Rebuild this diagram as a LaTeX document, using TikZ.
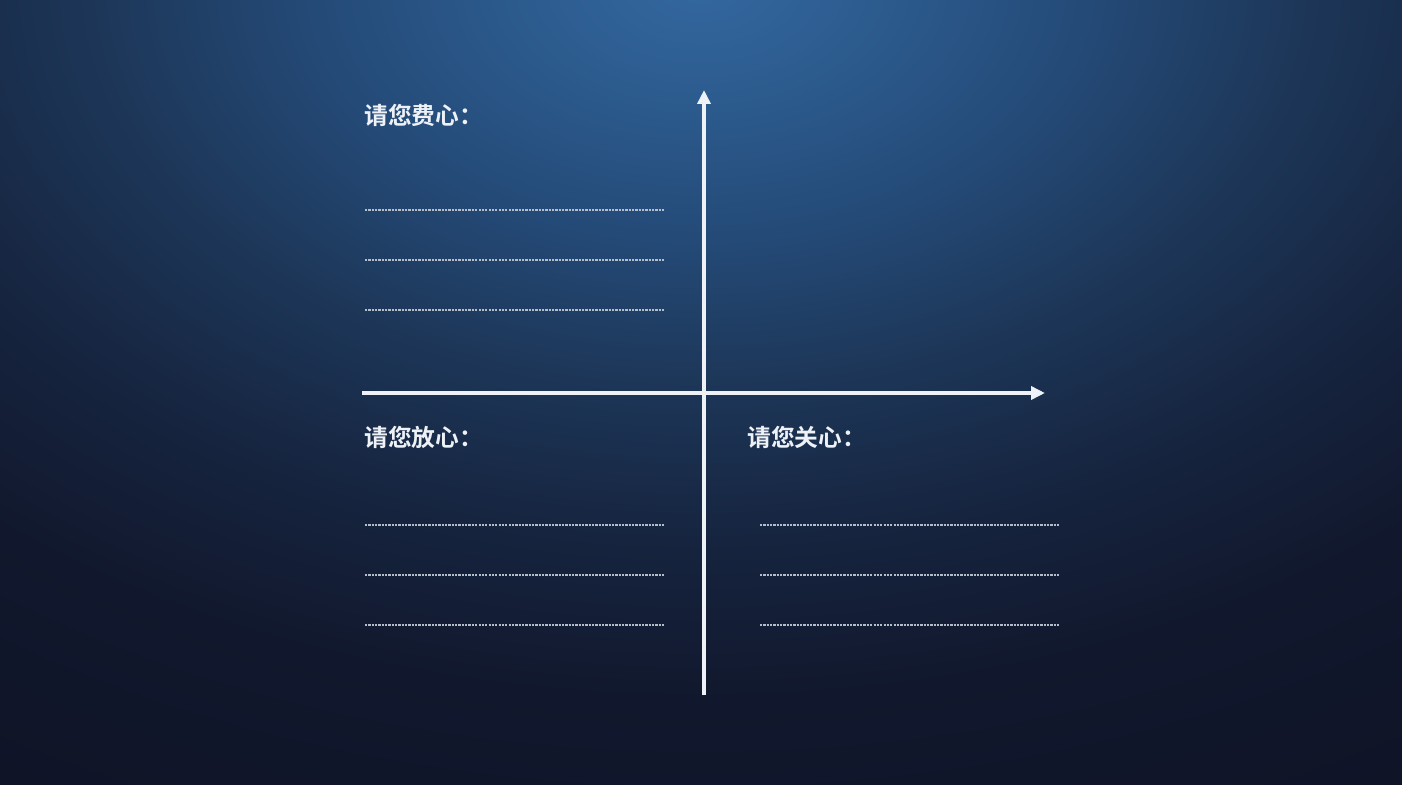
\documentclass[tikz,border=0pt]{standalone}
\usepackage{fontspec}
\usepackage{tikz}
\usetikzlibrary{arrows.meta,positioning,calc}
\newfontfamily\cjk{Noto Sans CJK SC Bold}
\definecolor{glowtop}{HTML}{3468A0}
\definecolor{glowhigh}{HTML}{2C5B8E}
\definecolor{glowmid}{HTML}{244A77}
\definecolor{glowlow}{HTML}{1D3759}
\definecolor{glowdark}{HTML}{16243F}
\definecolor{glowdeep}{HTML}{11182D}
\definecolor{glowend}{HTML}{0F1326}
\definecolor{inkwhite}{HTML}{EEF2F7}
\definecolor{dashgrey}{HTML}{B4BECA}
\pgfdeclareradialshading{bgglow}{\pgfpoint{0bp}{0bp}}{color(0bp)=(glowtop); color(3bp)=(glowhigh); color(6.5bp)=(glowmid); color(10bp)=(glowlow); color(14bp)=(glowdark); color(18bp)=(glowdeep); color(24bp)=(glowend); color(100bp)=(glowend)}

\begin{document}
\begin{tikzpicture}[
    x=0.02cm, y=-0.02cm,
    axis/.style={draw=inkwhite, line width=2pt, -{Triangle[length=0.28cm, width=0.26cm]}},
    blank/.style={draw=dashgrey, line width=0.75pt, dash pattern=on 1.3pt off 0.6pt},
    heading/.style={anchor=west, inner sep=0pt, text=inkwhite, font=\cjk\fontsize{13.5}{16}\selectfont}
]
\useasboundingbox (0,0) rectangle (1402,784);
\fill[glowend] (0,0) rectangle (1402,784);
\begin{scope}
    \clip (0,0) rectangle (1402,784);
    \shade[shading=bgglow] (700,-20) ellipse (1500 and 1000);
\end{scope}

% axes
\coordinate (ybot) at (704,695);
\coordinate (ytop) at (704,90);
\coordinate (xleft) at (362,393);
\coordinate (xright) at (1045,393);
\draw[axis] (ybot) -- (ytop);
\draw[axis] (xleft) -- (xright);

% quadrant headings
\node[heading] (worry) at (364,115) {请您费心：};
\node[heading] (relax) at (364,437) {请您放心：};
\node[heading] (care) at (747,437) {请您关心：};

% blank lines to fill in
\foreach \y in {210,260,310}
    \draw[blank] (365,\y) -- (665,\y);
\foreach \y in {525,575,625} {
    \draw[blank] (365,\y) -- (665,\y);
    \draw[blank] (760,\y) -- (1060,\y);
}
\end{tikzpicture}
\end{document}
